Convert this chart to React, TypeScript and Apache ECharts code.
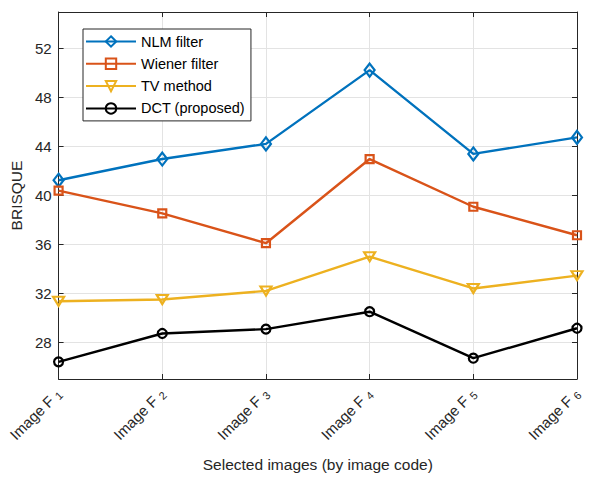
import React, { useEffect, useRef } from "react";
import * as echarts from "echarts";

const categories = ["Image F_1", "Image F_2", "Image F_3", "Image F_4", "Image F_5", "Image F_6"];
const nlmFilter = [41.25, 42.98, 44.22, 50.25, 43.4, 44.75];
const wienerFilter = [40.4, 38.54, 36.1, 42.98, 39.08, 36.75];
const tvMethod = [31.35, 31.5, 32.2, 35.0, 32.4, 33.45];
const dctProposed = [26.4, 28.72, 29.08, 30.5, 26.7, 29.15];
const yRange = { min: 25, max: 55 };
const yTickValues = [28, 32, 36, 40, 44, 48, 52];

const FONT = "'Liberation Sans', Arial, Helvetica, sans-serif";
const AX = "#262626";

export default function App() {
  const ref = useRef<HTMLDivElement>(null);
  useEffect(() => {
    if (!ref.current) return;
    const chart = echarts.init(ref.current, undefined, { renderer: "svg" });
    const mk = (name: string, data: number[], color: string, symbol: string, size: any, rotate = 0) => ({
      name,
      type: "line",
      data,
      symbol,
      symbolSize: size,
      symbolRotate: rotate,
      showAllSymbol: true,
      lineStyle: { color, width: 2.4 },
      itemStyle: { color: "rgba(255,255,255,0)", borderColor: color, borderWidth: 2.2 },
      emphasis: { disabled: true },
      z: 3,
    });
    chart.setOption({
      animation: false,
      textStyle: { fontFamily: FONT },
      grid: { left: 57, right: 16, top: 12, bottom: 96 },
      legend: {
        left: 83,
        top: 29,
        orient: "vertical",
        backgroundColor: "#fff",
        borderColor: AX,
        borderWidth: 1,
        borderRadius: 0,
        padding: [5, 6, 5, 2],
        itemWidth: 50,
        itemHeight: 13,
        itemGap: 7.3,
        textStyle: { fontSize: 14.5, color: "#000", fontFamily: FONT },
        data: ["NLM filter", "Wiener filter", "TV method", "DCT (proposed)"],
      },
      xAxis: [
        {
          type: "category",
          data: categories,
          boundaryGap: false,
          name: "Selected images (by image code)",
          nameLocation: "middle",
          nameGap: 77,
          nameTextStyle: { fontSize: 15.5, color: AX, fontFamily: FONT },
          axisLine: { lineStyle: { color: AX, width: 1 } },
          axisTick: { inside: true, length: 5, lineStyle: { color: AX } },
          splitLine: { show: true, lineStyle: { color: "#e3e3e3", width: 1 } },
          axisLabel: {
            rotate: 45,
            margin: 12,
            color: AX,
            fontSize: 15,
            fontFamily: FONT,
            formatter: (v: string) => v.replace(/_(\d+)/, " {sub|$1}"),
            rich: {
              sub: { fontSize: 11, color: AX, fontFamily: FONT, verticalAlign: "bottom", padding: [7, 0, 0, 0] },
            },
          },
        },
        {
          type: "category",
          data: categories,
          boundaryGap: false,
          position: "top",
          axisLine: { lineStyle: { color: AX, width: 1 } },
          axisTick: { inside: true, length: 5, lineStyle: { color: AX } },
          axisLabel: { show: false },
          splitLine: { show: false },
        },
      ],
      yAxis: [
        {
          type: "value",
          min: yRange.min,
          max: yRange.max,
          name: "BRISQUE",
          nameLocation: "middle",
          nameGap: 33,
          nameTextStyle: { fontSize: 15.5, color: AX, fontFamily: FONT },
          axisLine: { show: true, lineStyle: { color: AX, width: 1 } },
          axisTick: { show: true, inside: true, length: 5, lineStyle: { color: AX }, customValues: yTickValues },
          splitLine: { show: true, lineStyle: { color: "#e3e3e3", width: 1 } },
          axisLabel: {
            color: AX,
            fontSize: 15,
            fontFamily: FONT,
            margin: 7,
            customValues: yTickValues,
          },
        },
        {
          type: "value",
          min: yRange.min,
          max: yRange.max,
          position: "right",
          axisLine: { show: true, lineStyle: { color: AX, width: 1 } },
          axisTick: { show: true, inside: true, length: 5, lineStyle: { color: AX }, customValues: yTickValues },
          axisLabel: { show: false, customValues: yTickValues },
          splitLine: { show: false },
        },
      ],
      series: [
        mk("NLM filter", nlmFilter, "#0072BD", "diamond", [10, 13]),
        mk("Wiener filter", wienerFilter, "#D95319", "rect", 8),
        mk("TV method", tvMethod, "#EDB120", "triangle", [11, 9], 180),
        mk("DCT (proposed)", dctProposed, "#000000", "circle", 9),
      ],
    });
    return () => chart.dispose();
  }, []);
  return <div ref={ref} style={{ width: 593, height: 477, position: "absolute", left: 0, top: 0 }} />;
}
